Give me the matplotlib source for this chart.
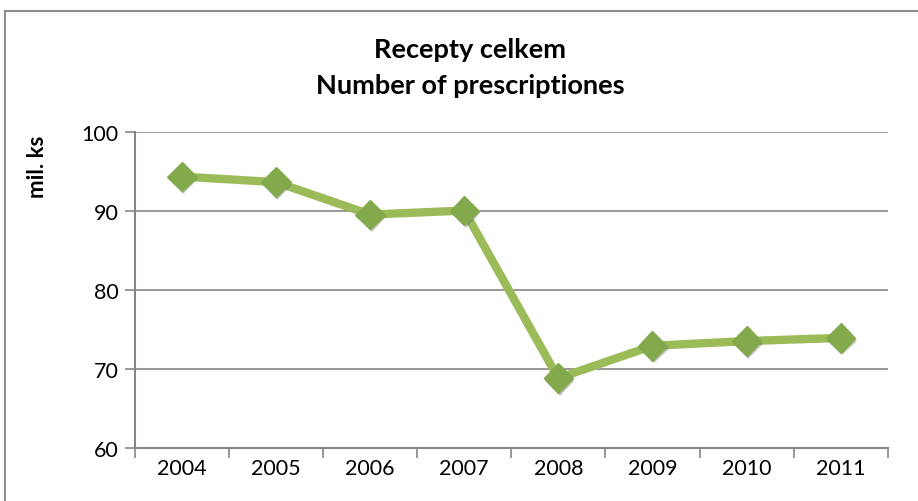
import matplotlib.pyplot as plt
from matplotlib.patches import Rectangle
import matplotlib.patheffects as pe

# ---------- DATA ----------
years = ["2004", "2005", "2006", "2007", "2008", "2009", "2010", "2011"]
prescriptions = [94.3, 93.6, 89.5, 90.0, 68.8, 72.9, 73.5, 73.9]  # mil. ks
y_ticks = [60, 70, 80, 90, 100]

title_cz = "Recepty celkem"
title_en = "Number of prescriptiones"
y_label = "mil. ks"

# ---------- STYLE ----------
plt.rcParams["font.family"] = ["Lato", "DejaVu Sans"]
LINE_GREEN = "#9BBB59"
MARKER_GREEN = "#82A94B"
GRID_GREY = "#868686"

fig = plt.figure(figsize=(9.18, 5.02), dpi=100)
ax = fig.add_axes([0.147, 0.106, 0.82, 0.630])

# outer chart frame (cropped on right/bottom like the reference)
fig.patches.append(Rectangle((5 / 918, -0.1), 1.2, 1 - 12 / 502 + 0.1,
                             transform=fig.transFigure, fill=False,
                             edgecolor="#8c8c8c", linewidth=1.5))

x = list(range(len(years)))
ax.plot(x, prescriptions, color=LINE_GREEN, linewidth=6, zorder=3,
        solid_capstyle="round", solid_joinstyle="round")
ax.plot(x, prescriptions, linestyle="none", marker="D", markersize=15,
        markerfacecolor=MARKER_GREEN, markeredgecolor=MARKER_GREEN, zorder=4,
        path_effects=[pe.SimplePatchShadow(offset=(1, -2), shadow_rgbFace="#555555", alpha=0.35),
                      pe.Normal()])

ax.set_xlim(-0.5, len(years) - 0.5)
ax.set_ylim(60, 100)
ax.set_yticks(y_ticks)
ax.set_xticks(x)
ax.set_xticklabels(years)
ax.set_xticks([i - 0.5 for i in range(len(years) + 1)], minor=True)
ax.tick_params(axis="x", which="major", length=0, pad=7, labelsize=15.5)
ax.tick_params(axis="x", which="minor", length=7, color=GRID_GREY, width=1.2)
ax.tick_params(axis="y", length=7, color=GRID_GREY, width=1.2, labelsize=15.5, pad=5)

ax.grid(axis="y", color=GRID_GREY, linewidth=1.2, zorder=1)
ax.set_axisbelow(True)
for side in ["top", "right"]:
    ax.spines[side].set_visible(False)
for side in ["left", "bottom"]:
    ax.spines[side].set_color(GRID_GREY)
    ax.spines[side].set_linewidth(1.5)

# y label sits near the top of the axis in the reference
fig.text(38 / 918, 1 - 167 / 502, y_label, rotation=90, ha="center", va="center",
         fontsize=16, fontweight="bold")

fig.text(0.512, 1 - 50 / 502, title_cz, ha="center", va="center",
         fontsize=19.5, fontweight="bold")
fig.text(0.512, 1 - 86 / 502, title_en, ha="center", va="center",
         fontsize=19.5, fontweight="bold")

fig.savefig("out.png", dpi=100)
